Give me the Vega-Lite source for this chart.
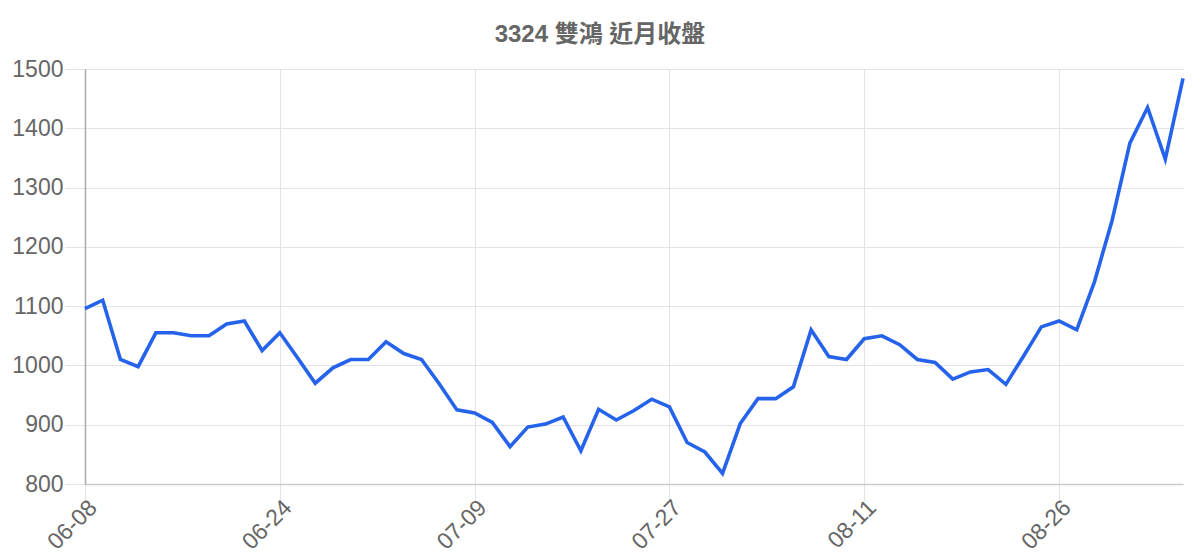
{
  "$schema": "https://vega.github.io/schema/vega-lite/v6.json",
  "autosize": {"type": "none"},
  "padding": {"top": 69, "left": 85, "right": 17, "bottom": 76},
  "width": 1098,
  "height": 415,
  "background": "white",
  "title": {
    "text": "3324 雙鴻 近月收盤",
    "font": "Liberation Sans, Noto Sans CJK TC",
    "fontSize": 24,
    "fontWeight": "bold",
    "color": "#666666",
    "anchor": "middle",
    "frame": "group",
    "dx": -34,
    "offset": 11
  },
  "config": {
    "view": {"stroke": null},
    "font": "Liberation Sans, Noto Sans CJK TC"
  },
  "data": {
    "values": [
      {"date": "06-08", "close": 1096},
      {"date": "06-09", "close": 1110},
      {"date": "06-10", "close": 1010},
      {"date": "06-11", "close": 998},
      {"date": "06-12", "close": 1055},
      {"date": "06-15", "close": 1055},
      {"date": "06-16", "close": 1050},
      {"date": "06-17", "close": 1050},
      {"date": "06-18", "close": 1070},
      {"date": "06-19", "close": 1075},
      {"date": "06-23", "close": 1025},
      {"date": "06-24", "close": 1055},
      {"date": "06-25", "close": 1013},
      {"date": "06-26", "close": 970},
      {"date": "06-29", "close": 996},
      {"date": "06-30", "close": 1010},
      {"date": "07-01", "close": 1010},
      {"date": "07-02", "close": 1040},
      {"date": "07-03", "close": 1020},
      {"date": "07-06", "close": 1010},
      {"date": "07-07", "close": 969},
      {"date": "07-08", "close": 925},
      {"date": "07-09", "close": 920},
      {"date": "07-10", "close": 904},
      {"date": "07-13", "close": 863},
      {"date": "07-14", "close": 896},
      {"date": "07-15", "close": 901},
      {"date": "07-16", "close": 913},
      {"date": "07-17", "close": 856},
      {"date": "07-20", "close": 926},
      {"date": "07-21", "close": 908},
      {"date": "07-22", "close": 924},
      {"date": "07-23", "close": 943},
      {"date": "07-27", "close": 930},
      {"date": "07-28", "close": 870},
      {"date": "07-29", "close": 854},
      {"date": "07-30", "close": 818},
      {"date": "07-31", "close": 902},
      {"date": "08-03", "close": 944},
      {"date": "08-04", "close": 944},
      {"date": "08-05", "close": 964},
      {"date": "08-06", "close": 1060},
      {"date": "08-07", "close": 1015},
      {"date": "08-10", "close": 1010},
      {"date": "08-11", "close": 1045},
      {"date": "08-12", "close": 1050},
      {"date": "08-13", "close": 1035},
      {"date": "08-14", "close": 1010},
      {"date": "08-17", "close": 1005},
      {"date": "08-18", "close": 977},
      {"date": "08-19", "close": 989},
      {"date": "08-20", "close": 993},
      {"date": "08-21", "close": 968},
      {"date": "08-24", "close": 1016},
      {"date": "08-25", "close": 1065},
      {"date": "08-26", "close": 1075},
      {"date": "08-27", "close": 1060},
      {"date": "08-28", "close": 1141},
      {"date": "08-31", "close": 1245},
      {"date": "09-01", "close": 1375},
      {"date": "09-02", "close": 1435},
      {"date": "09-03", "close": 1348},
      {"date": "09-04", "close": 1484}
    ]
  },
  "mark": {"type": "line", "color": "#2563eb", "strokeWidth": 3.6},
  "encoding": {
    "x": {
      "field": "date",
      "type": "ordinal",
      "sort": null,
      "scale": {"type": "point", "padding": 0},
      "axis": {
        "title": null,
        "values": ["06-08", "06-24", "07-09", "07-27", "08-11", "08-26"],
        "labelAngle": -45,
        "labelAlign": "right",
        "labelBaseline": "top",
        "labelFontSize": 23,
        "labelColor": "#666666",
        "labelPadding": -5,
        "tickSize": 17,
        "tickColor": "#e3e3e3",
        "grid": true,
        "gridColor": "#e3e3e3",
        "domainColor": "#cccccc",
        "domainWidth": 1.5
      }
    },
    "y": {
      "field": "close",
      "type": "quantitative",
      "scale": {"domain": [800, 1500], "nice": false, "zero": false},
      "axis": {
        "title": null,
        "format": "d",
        "values": [800, 900, 1000, 1100, 1200, 1300, 1400, 1500],
        "labelFontSize": 23,
        "labelColor": "#666666",
        "labelPadding": 2,
        "tickSize": 20,
        "tickColor": "#e3e3e3",
        "grid": true,
        "gridColor": "#e3e3e3",
        "domainColor": "#aaaaaa",
        "domainWidth": 1.5
      }
    }
  }
}
